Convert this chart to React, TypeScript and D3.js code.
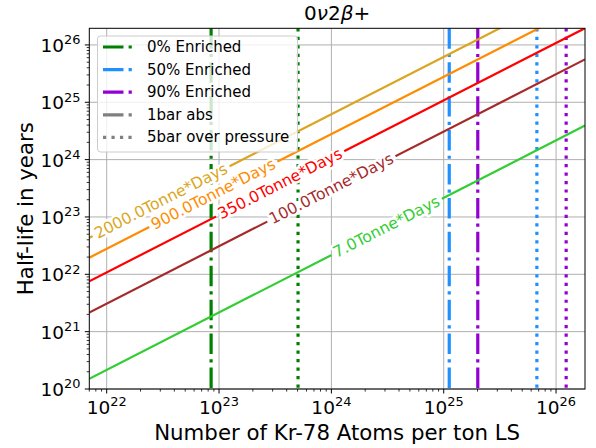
import React from 'react';
import * as d3 from 'd3';

const W = 596;
const H = 448;
const plot = { left: 89.3, right: 585, top: 28.3, bottom: 389 };

// axes
const xDomain = [7.0e21, 1.81e26];
const yDomain = [1e20, 1.95e26];
const xTickExps = [22, 23, 24, 25, 26];
const yTickExps = [20, 21, 22, 23, 24, 25, 26];

// exposure lines (half-life vs atoms), values read at the left and right edges
const exposures = [2000, 900, 350, 100, 7];
const expColors = ['#daa520', '#ff8c00', '#ff0000', '#a52a2a', '#32cd32'];
const lineStartN = 7.0e21;
const lineEndN = 1.81e26;
const halfLifeStart = [4.33e22, 1.95e22, 7.57e21, 2.16e21, 1.51e20];
const halfLifeEnd = [1.12e27, 5.04e26, 1.96e26, 5.6e25, 3.92e24];
const labelN = [3.05e22, 8.9e22, 3.5e23, 1.0e24, 3.1e24];

// enrichment vertical lines
const enrichments = ['0% Enriched', '50% Enriched', '90% Enriched'];
const enrichColors = ['#008000', '#1e90ff', '#9400d3'];
const atoms1bar = [8.5e22, 1.12e25, 2.01e25];
const atoms5bar = [5.05e23, 6.75e25, 1.23e26];

const legendLabels = [...enrichments, '1bar abs', '5bar over pressure'];

const FONT = 'DejaVu Sans';
const LW = 3.2;
const DASHDOT = [6.4, 1.6, 1, 1.6].map((d) => d * LW).join(',');
const DOTTED = [1, 1.65].map((d) => d * LW).join(',');

// approximate DejaVu Sans advance widths (em) for label gap sizing
const charW: Record<string, number> = {
  '0': 0.636, '1': 0.636, '2': 0.636, '3': 0.636, '5': 0.636, '7': 0.636, '9': 0.636,
  '.': 0.318, T: 0.611, o: 0.612, n: 0.634, e: 0.615, '*': 0.5, D: 0.77, a: 0.613, y: 0.592, s: 0.521,
};
const textWidth = (s: string, fs: number) =>
  s.split('').reduce((acc, c) => acc + (charW[c] ?? 0.6), 0) * fs;

export default function App() {
  const x = d3.scaleLog().domain(xDomain).range([plot.left, plot.right]);
  const y = d3.scaleLog().domain(yDomain).range([plot.bottom, plot.top]);

  const minorTicks = (domain: number[]) => {
    const out: number[] = [];
    const lo = Math.floor(Math.log10(domain[0]));
    const hi = Math.ceil(Math.log10(domain[1]));
    for (let e = lo; e <= hi; e++) {
      for (let m = 2; m <= 9; m++) {
        const v = m * Math.pow(10, e);
        if (v >= domain[0] && v <= domain[1]) out.push(v);
      }
    }
    return out;
  };
  const xMinor = minorTicks(xDomain);
  const yMinor = minorTicks(yDomain);

  const lineGen = d3
    .line<[number, number]>()
    .x((d) => x(d[0]))
    .y((d) => y(d[1]));

  const tickFs = 18.5;
  const majorLen = 4.5;
  const minorLen = 2.6;
  const labelFs = 15.6;

  const legendX = 97.5;
  const legendY = 36;
  const rowY0 = 47;
  const rowDy = 22.6;

  const labels = exposures.map((e, i) => {
    const t = (Math.log10(labelN[i]) - Math.log10(lineStartN)) / (Math.log10(lineEndN) - Math.log10(lineStartN));
    const ly = Math.pow(10, Math.log10(halfLifeStart[i]) + t * (Math.log10(halfLifeEnd[i]) - Math.log10(halfLifeStart[i])));
    const px = x(labelN[i]);
    const py = y(ly);
    const x0 = x(lineStartN), y0 = y(halfLifeStart[i]);
    const x1 = x(lineEndN), y1 = y(halfLifeEnd[i]);
    const ang = (Math.atan2(y1 - y0, x1 - x0) * 180) / Math.PI;
    const text = `${e.toFixed(1)}Tonne*Days`;
    return { px, py, ang, text, w: textWidth(text, labelFs) };
  });

  return (
    <svg width={W} height={H} style={{ position: 'absolute', left: 0, top: 0, background: '#fff' }} fontFamily={FONT}>
      <defs>
        <clipPath id="plotClip">
          <rect x={plot.left} y={plot.top} width={plot.right - plot.left} height={plot.bottom - plot.top} />
        </clipPath>
        {labels.map((l, i) => (
          <mask id={'gap' + i} key={'m' + i} maskUnits="userSpaceOnUse" x={0} y={0} width={W} height={H}>
            <rect x={0} y={0} width={W} height={H} fill="#fff" />
            <rect
              x={-l.w / 2 - 2}
              y={-8}
              width={l.w + 4}
              height={16}
              fill="#000"
              transform={`translate(${l.px},${l.py}) rotate(${l.ang})`}
            />
          </mask>
        ))}
      </defs>
      <rect x={0} y={0} width={W} height={H} fill="#fff" />

      {/* grid */}
      <g stroke="#b0b0b0" strokeWidth={1}>
        {xTickExps.map((e) => (
          <line key={'gx' + e} x1={x(Math.pow(10, e))} x2={x(Math.pow(10, e))} y1={plot.top} y2={plot.bottom} />
        ))}
        {yTickExps.map((e) => (
          <line key={'gy' + e} y1={y(Math.pow(10, e))} y2={y(Math.pow(10, e))} x1={plot.left} x2={plot.right} />
        ))}
      </g>

      <g clipPath="url(#plotClip)">
        {/* vertical enrichment lines */}
        {atoms1bar.map((v, i) => (
          <line key={'v1' + i} x1={x(v)} x2={x(v)} y1={plot.top} y2={plot.bottom} stroke={enrichColors[i]} strokeWidth={LW} strokeDasharray={DASHDOT} />
        ))}
        {atoms5bar.map((v, i) => (
          <line key={'v5' + i} x1={x(v)} x2={x(v)} y1={plot.top} y2={plot.bottom} stroke={enrichColors[i]} strokeWidth={LW} strokeDasharray={DOTTED} />
        ))}
        {/* exposure lines */}
        {exposures.map((e, i) => (
          <path
            key={'l' + e}
            d={lineGen([[lineStartN, halfLifeStart[i]], [lineEndN, halfLifeEnd[i]]]) || ''}
            fill="none"
            stroke={expColors[i]}
            strokeWidth={2.2}
            mask={`url(#gap${i})`}
          />
        ))}
      </g>

      {/* inline labels */}
      {labels.map((l, i) => (
        <text
          key={'t' + i}
          x={0}
          y={0}
          transform={`translate(${l.px},${l.py}) rotate(${l.ang})`}
          textAnchor="middle"
          dominantBaseline="central"
          fontSize={labelFs}
          fill={expColors[i]}
          stroke="#fff"
          strokeWidth={5}
          strokeLinejoin="round"
          paintOrder="stroke"
        >
          {l.text}
        </text>
      ))}

      {/* spines */}
      <rect x={plot.left} y={plot.top} width={plot.right - plot.left} height={plot.bottom - plot.top} fill="none" stroke="#000" strokeWidth={1} />

      {/* ticks */}
      <g stroke="#000" strokeWidth={1}>
        {xTickExps.map((e) => (
          <line key={'xt' + e} x1={x(Math.pow(10, e))} x2={x(Math.pow(10, e))} y1={plot.bottom} y2={plot.bottom + majorLen} />
        ))}
        {xMinor.map((v, i) => (
          <line key={'xm' + i} x1={x(v)} x2={x(v)} y1={plot.bottom} y2={plot.bottom + minorLen} strokeWidth={0.8} />
        ))}
        {yTickExps.map((e) => (
          <line key={'yt' + e} y1={y(Math.pow(10, e))} y2={y(Math.pow(10, e))} x1={plot.left} x2={plot.left - majorLen} />
        ))}
        {yMinor.map((v, i) => (
          <line key={'ym' + i} y1={y(v)} y2={y(v)} x1={plot.left} x2={plot.left - minorLen} strokeWidth={0.8} />
        ))}
      </g>

      {/* tick labels */}
      {xTickExps.map((e) => (
        <text key={'xl' + e} x={x(Math.pow(10, e))} y={414} textAnchor="middle" fontSize={tickFs} fill="#000">
          10<tspan fontSize={tickFs * 0.7} dy={-tickFs * 0.42}>{e}</tspan>
        </text>
      ))}
      {yTickExps.map((e) => (
        <text key={'yl' + e} x={80.5} y={y(Math.pow(10, e)) + 7} textAnchor="end" fontSize={tickFs} fill="#000">
          10<tspan fontSize={tickFs * 0.7} dy={-tickFs * 0.42}>{e}</tspan>
        </text>
      ))}

      {/* axis labels */}
      <text x={(plot.left + plot.right) / 2} y={440} textAnchor="middle" fontSize={21.3} fill="#000">
        Number of Kr-78 Atoms per ton LS
      </text>
      <text transform={`translate(33,${(plot.top + plot.bottom) / 2}) rotate(-90)`} textAnchor="middle" fontSize={21.3} fill="#000">
        Half-life in years
      </text>

      {/* title */}
      <text x={(plot.left + plot.right) / 2} y={20} textAnchor="middle" fontSize={20} fill="#000">
        <tspan>0</tspan>
        <tspan fontStyle="italic">ν</tspan>
        <tspan>2</tspan>
        <tspan fontStyle="italic">β</tspan>
        <tspan>+</tspan>
      </text>

      {/* legend */}
      <rect x={legendX} y={legendY} width={200} height={116} rx={3} fill="#fff" fillOpacity={0.8} stroke="#cccccc" strokeWidth={1} />
      {legendLabels.map((lab, i) => {
        const ry = rowY0 + i * rowDy;
        const color = i < 3 ? enrichColors[i] : '#808080';
        const dash = i === 4 ? DOTTED : DASHDOT;
        return (
          <g key={'lg' + i}>
            <line x1={103} x2={132} y1={ry} y2={ry} stroke={color} strokeWidth={LW} strokeDasharray={dash} />
            <text x={147} y={ry} dominantBaseline="central" fontSize={15} fill="#000">
              {lab}
            </text>
          </g>
        );
      })}
    </svg>
  );
}
